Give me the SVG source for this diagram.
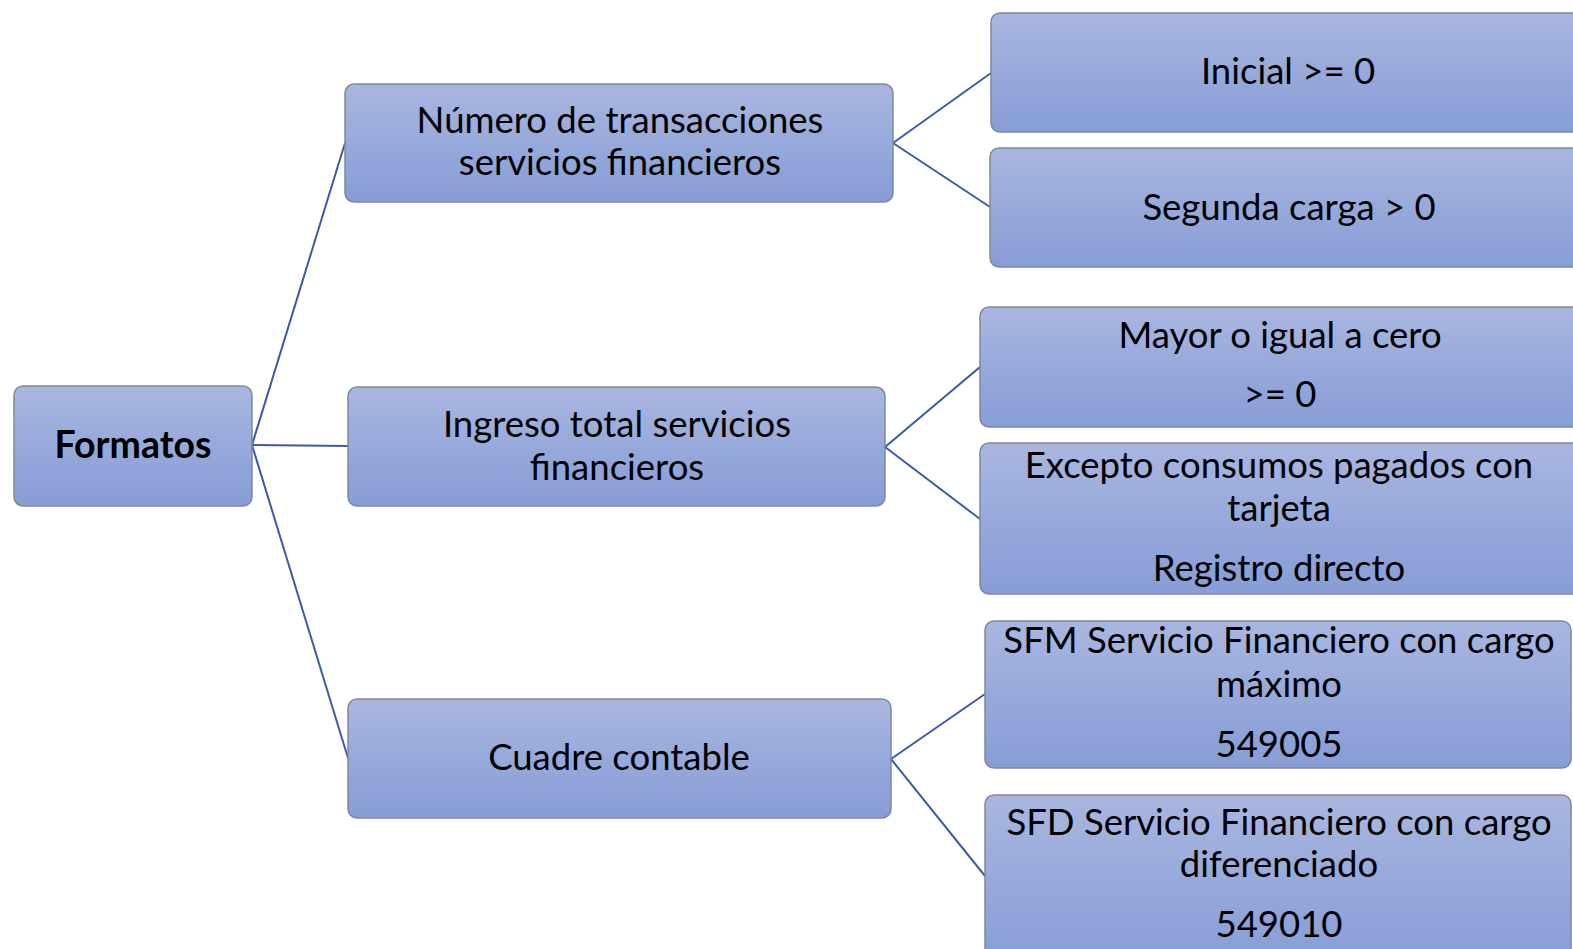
<svg xmlns="http://www.w3.org/2000/svg" width="1573" height="949" viewBox="0 0 1573 949">
<defs>
<linearGradient id="g" x1="0" y1="0" x2="0" y2="1">
<stop offset="0" stop-color="#A9B6E0"/>
<stop offset="1" stop-color="#869DD6"/>
</linearGradient>
<style>
.box{fill:url(#g);stroke:#7F889C;stroke-width:1.5}
.t{font-family:Lato,"Open Sans",sans-serif;font-size:36.5px;fill:#000;text-anchor:middle}
.b{font-weight:bold;font-size:37.5px}
.c{stroke:#3A5CA8;stroke-width:2;fill:none}
</style>
</defs>
<rect width="1573" height="949" fill="#fff"/>
<g id="connectors">
<line class="c" x1="252" y1="445" x2="345" y2="143"/>
<line class="c" x1="252" y1="445" x2="348" y2="446"/>
<line class="c" x1="252" y1="445" x2="348" y2="758"/>
<line class="c" x1="893" y1="143" x2="991" y2="73"/>
<line class="c" x1="893" y1="143" x2="990" y2="207"/>
<line class="c" x1="885" y1="447" x2="980" y2="367"/>
<line class="c" x1="885" y1="447" x2="980" y2="519"/>
<line class="c" x1="891" y1="759" x2="985" y2="694"/>
<line class="c" x1="891" y1="759" x2="985" y2="876"/>
</g>
<g id="formatos">
<rect class="box" x="14" y="386" width="238" height="120" rx="9"/>
<text class="t b" x="133" y="458">Formatos</text>
</g>
<g id="numero">
<rect class="box" x="345" y="84" width="548" height="118" rx="9"/>
<text class="t" x="620" y="133">Número de transacciones</text>
<text class="t" x="620" y="175">servicios financieros</text>
</g>
<g id="ingreso">
<rect class="box" x="348" y="387" width="537" height="119" rx="9"/>
<text class="t" x="617" y="437">Ingreso total servicios</text>
<text class="t" x="617" y="480">financieros</text>
</g>
<g id="cuadre">
<rect class="box" x="348" y="699" width="543" height="119" rx="9"/>
<text class="t" x="619" y="770">Cuadre contable</text>
</g>
<g id="inicial">
<rect class="box" x="991" y="13" width="600" height="119" rx="9"/>
<text class="t" x="1288" y="84">Inicial &gt;= 0</text>
</g>
<g id="segunda">
<rect class="box" x="990" y="148" width="600" height="119" rx="9"/>
<text class="t" x="1289" y="220">Segunda carga &gt; 0</text>
</g>
<g id="mayor">
<rect class="box" x="980" y="307" width="610" height="120" rx="9"/>
<text class="t" x="1280" y="348">Mayor o igual a cero</text>
<text class="t" x="1280" y="407">&gt;= 0</text>
</g>
<g id="excepto">
<rect class="box" x="980" y="443" width="610" height="151" rx="9"/>
<text class="t" x="1279" y="478">Excepto consumos pagados con</text>
<text class="t" x="1279" y="521">tarjeta</text>
<text class="t" x="1279" y="581">Registro directo</text>
</g>
<g id="sfm">
<rect class="box" x="985" y="621" width="586" height="147" rx="9"/>
<text class="t" x="1279" y="653">SFM Servicio Financiero con cargo</text>
<text class="t" x="1279" y="697">máximo</text>
<text class="t" x="1279" y="757">549005</text>
</g>
<g id="sfd">
<rect class="box" x="985" y="795" width="586" height="170" rx="9"/>
<text class="t" x="1279" y="835">SFD Servicio Financiero con cargo</text>
<text class="t" x="1279" y="877">diferenciado</text>
<text class="t" x="1279" y="937">549010</text>
</g>
</svg>
